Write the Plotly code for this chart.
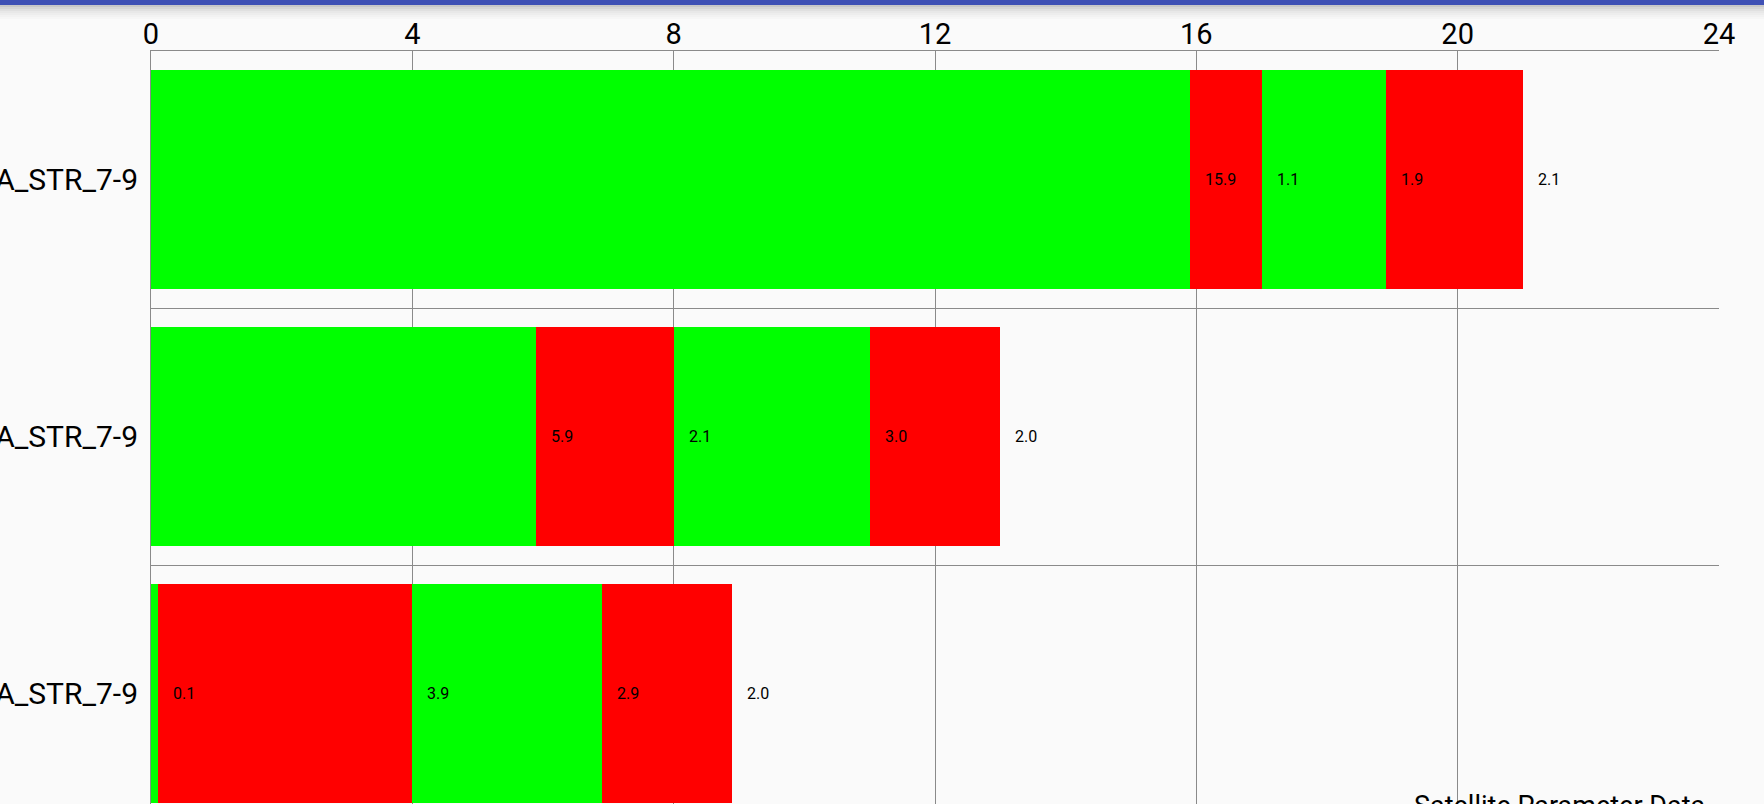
import plotly.graph_objects as go

# rows, top to bottom (left part of the names is cut off in the source)
row_labels = ["A_STR_7-9", "A_STR_7-9", "A_STR_7-9"]
row_pos = [0, 1, 2]

# stacked segments, left to right
seg1 = [15.9, 5.9, 0.1]
seg2 = [1.1, 2.1, 3.9]
seg3 = [1.9, 3.0, 2.9]
seg4 = [2.1, 2.0, 2.0]
segments = [seg1, seg2, seg3, seg4]
seg_colors = ["#00FF00", "#FF0000", "#00FF00", "#FF0000"]

x_ticks = [0, 4, 8, 12, 16, 20, 24]
description = "Satellite Parameter Data"

GRID = "#8a8a8a"
W, H = 1764, 804
L, R, T, B = 151, 45, 51, 0
row_px = 257.0
plot_h = H - T - B

fig = go.Figure()
for vals, col in zip(segments, seg_colors):
    fig.add_trace(go.Bar(
        x=vals, y=row_pos, orientation="h", width=0.85,
        marker=dict(color=col, line=dict(width=0)),
        hoverinfo="x", showlegend=False,
    ))

# value labels sit just right of each segment's end (MPAndroidChart style)
annotations = []
for r in row_pos:
    cum = 0.0
    for vals in segments:
        cum += vals[r]
        annotations.append(dict(
            x=cum, y=r, xref="x", yref="y", text="%.1f" % vals[r],
            showarrow=False, xanchor="left", yanchor="middle", xshift=13,
            font=dict(family="Roboto", size=16, color="#000000"),
        ))

annotations.append(dict(
    x=(1707 - L) / (W - L - R), y=(H - 791 + 3) / plot_h, xref="paper", yref="paper",
    text=description, showarrow=False, xanchor="right", yanchor="top",
    font=dict(family="Roboto", size=27, color="#000000"),
))

# app bar strip + its shadow above the chart
def py(p):
    return 1 + (T - p) / plot_h

shapes = [dict(type="rect", xref="paper", yref="paper", x0=-1, x1=2,
               y0=py(5), y1=py(-2), fillcolor="#3F51B5", line=dict(width=0), layer="above")]
shade = [0.20, 0.14, 0.10, 0.07, 0.05, 0.03, 0.015]
for i, a in enumerate(shade):
    shapes.append(dict(type="rect", xref="paper", yref="paper", x0=-1, x1=2,
                       y0=py(5 + 2 * (i + 1)), y1=py(5 + 2 * i),
                       fillcolor="rgba(0,0,0,%.3f)" % a, line=dict(width=0), layer="above"))

fig.update_layout(
    width=W, height=H,
    margin=dict(l=L, r=R, t=T, b=B, autoexpand=False),
    barmode="stack", bargap=0,
    paper_bgcolor="#FAFAFA", plot_bgcolor="#FAFAFA",
    font=dict(family="Roboto", color="#000000"),
    annotations=annotations, shapes=shapes,
    xaxis=dict(
        side="top", range=[0, 24], tickvals=x_ticks, ticks="",
        ticklabelstandoff=-6,
        showgrid=True, gridcolor=GRID, gridwidth=1, zeroline=False,
        showline=True, linecolor=GRID, linewidth=1, mirror=False,
        tickfont=dict(family="Roboto", size=29, color="#000000"),
        fixedrange=True,
    ),
    yaxis=dict(
        range=[-0.5 + plot_h / row_px, -0.5], tickvals=row_pos, ticktext=row_labels,
        ticks="outside", ticklen=0, ticklabelstandoff=6,
        showgrid=False, zeroline=False,
        showline=True, linecolor=GRID, linewidth=1,
        minor=dict(tickmode="linear", tick0=0.5, dtick=1, showgrid=True,
                   gridcolor=GRID, gridwidth=1, ticks=""),
        tickfont=dict(family="Roboto", size=30, color="#000000"),
        fixedrange=True,
    ),
)

# page body has an 8px default margin; drop it so the figure fills the window
fig.write_html("out.html", config={"displayModeBar": False},
               post_script="document.body.style.margin='0';document.body.style.overflow='hidden';")
